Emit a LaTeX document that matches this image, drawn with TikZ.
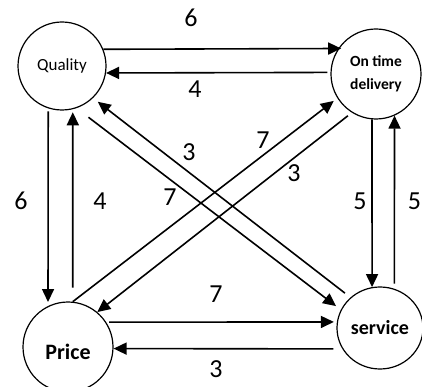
\documentclass[tikz,border=0pt]{standalone}
\usepackage{fontspec}
\setmainfont{Carlito}
\usetikzlibrary{arrows.meta,shapes.geometric}
\begin{document}
\begin{tikzpicture}[x=1pt,y=-1pt,
  con/.style={line width=1.6pt,-{Triangle[length=13pt,width=12pt]}},
  ent/.style={draw,line width=1.2pt,inner sep=0pt},
  num/.style={inner sep=0pt,font=\fontsize{26}{30}\selectfont}]
\useasboundingbox (0,0) rectangle (422,387);
\node[ent,circle,minimum size=88pt,font=\fontsize{17}{20}\selectfont] (q) at (62,66) {Quality};
\node[ent,circle,minimum size=90pt,align=center,font=\bfseries\fontsize{15.5}{23}\selectfont] (o) at (376,74) {On time\\delivery};
\node[ent,circle,minimum size=90pt,text height=24pt,text depth=0pt,font=\bfseries\fontsize{22}{26}\selectfont] (p) at (68,347) {Price};
\node[ent,ellipse,minimum width=86pt,minimum height=82pt,font=\bfseries\fontsize{20}{24}\selectfont] (s) at (380,328) {service};
% horizontal / vertical pairs
\draw[con,shorten >=-3pt] (q.22.7) -- (o.146.3);
\draw[con,shorten <=3pt] (o.178.7) -- (q.-9.2);
\draw[con,shorten <=3pt,shorten >=4pt] (q.-108.6) -- (p.116.4);
\draw[con,shorten <=14pt,shorten >=3pt] (p.84.9) -- (q.-76.9);
\draw[con] (o.-95.1) -- (s.101.2);
\draw[con,shorten <=5pt] (s.70.2) -- (o.-66.4);
\draw[con,shorten <=3pt,shorten >=3pt] (p.33.7) -- (s.172);
\draw[con,shorten <=9pt] (s.209.6) -- (p.-2.5);
% diagonals
\draw[con,shorten <=15pt,shorten >=6pt] (q.-71.7) -- (s.155.1);
\draw[con,shorten <=7pt,shorten >=6pt] (s.134.8) -- (q.-46.9);
\draw[con,shorten >=4.5pt] (p.84.4) -- (o.-148.8);
\draw[con,shorten <=5pt] (o.-122.5) -- (p.50.4);
% labels
\node[num] (l1) at (191,18) {6};
\node[num] (l2) at (195,89) {4};
\node[num] (l3) at (21,201) {6};
\node[num] (l4) at (100,201) {4};
\node[num] (l5) at (189,152) {3};
\node[num] (l6) at (263,140) {7};
\node[num] (l7) at (294,173) {3};
\node[num] (l8) at (170,197) {7};
\node[num] (l9) at (360,201) {5};
\node[num] (l10) at (414.5,201) {5};
\node[num] (l11) at (216,294) {7};
\node[num] (l12) at (216,369) {3};
\end{tikzpicture}
\end{document}
